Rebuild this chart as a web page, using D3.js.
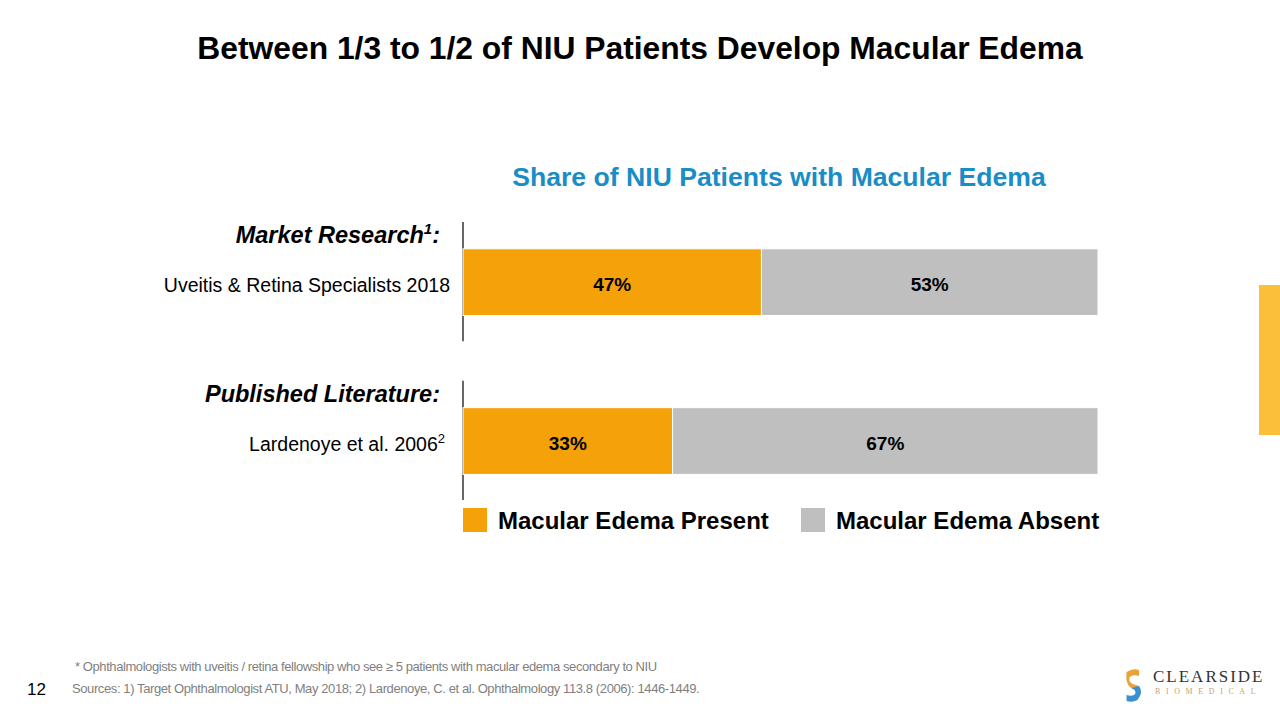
<!DOCTYPE html>
<html>
<head>
<meta charset="utf-8">
<script src="https://cdn.jsdelivr.net/npm/d3@7"></script>
<style>
  body { margin: 0; background: #fff; }
  svg { display: block; font-family: Arial, "Liberation Sans", sans-serif; }
</style>
</head>
<body>
<div id="chart"></div>
<script>
// chart data
var groups = ["Market Research", "Published Literature"];
var groupSup = ["1", ""];
var rowLabels = ["Uveitis & Retina Specialists 2018", "Lardenoye et al. 2006"];
var rowSup = ["", "2"];
var present = [47, 33];
var absent = [53, 67];
var seriesNames = ["Macular Edema Present", "Macular Edema Absent"];
var colors = ["#f4a10a", "#bfbfbf"];

var W = 1280, H = 720;
var svg = d3.select("#chart").append("svg")
  .attr("width", W).attr("height", H);

// title
svg.append("text")
  .attr("x", 640).attr("y", 59)
  .attr("text-anchor", "middle")
  .style("font-size", "31.8px").style("font-weight", "bold")
  .text("Between 1/3 to 1/2 of NIU Patients Develop Macular Edema");

svg.append("text")
  .attr("x", 779).attr("y", 186)
  .attr("text-anchor", "middle")
  .style("font-size", "26.6px").style("font-weight", "bold")
  .style("fill", "#1a8dc6")
  .text("Share of NIU Patients with Macular Edema");

// scales
var x = d3.scaleLinear().domain([0, 100]).range([463, 1098]);
var y = d3.scaleBand().domain(d3.range(groups.length)).range([222, 500]).paddingInner(0.25);

var rows = d3.range(groups.length).map(function(i) {
  return {i: i, segs: [
    {x0: 0, x1: present[i], c: colors[0]},
    {x0: present[i], x1: present[i] + absent[i], c: colors[1]}
  ]};
});

var g = svg.selectAll("g.row").data(rows).enter().append("g").attr("class", "row");

// axis line per group
g.append("line")
  .attr("x1", x(0)).attr("x2", x(0))
  .attr("y1", function(d) { return y(d.i); })
  .attr("y2", function(d) { return y(d.i) + y.bandwidth(); })
  .attr("stroke", "#000").attr("stroke-width", 1.2);

var barTop = function(i) { return y(i) + y.bandwidth() * 0.225; };
var barH = y.bandwidth() * 0.56;

g.selectAll("rect").data(function(d) { return d.segs.map(function(s) { return Object.assign({i: d.i}, s); }); })
  .enter().append("rect")
  .attr("x", function(d) { return x(d.x0); })
  .attr("width", function(d) { return x(d.x1) - x(d.x0); })
  .attr("y", function(d) { return barTop(d.i); })
  .attr("height", barH)
  .attr("fill", function(d) { return d.c; })
  .attr("stroke", "#fff").attr("stroke-width", 1);

g.selectAll("text.val").data(function(d) { return d.segs.map(function(s) { return Object.assign({i: d.i}, s); }); })
  .enter().append("text").attr("class", "val")
  .attr("x", function(d) { return (x(d.x0) + x(d.x1)) / 2; })
  .attr("y", function(d) { return barTop(d.i) + barH / 2 + 9; })
  .attr("text-anchor", "middle")
  .style("font-size", "19px").style("font-weight", "bold")
  .text(function(d) { return (d.x1 - d.x0) + "%"; });

// group headers
var hd = g.append("text")
  .attr("x", 440)
  .attr("y", function(d) { return y(d.i) + 21; })
  .attr("text-anchor", "end")
  .style("font-size", "23.5px").style("font-weight", "bold").style("font-style", "italic");
hd.append("tspan").text(function(d) { return groups[d.i]; });
hd.each(function(d) {
  var t = d3.select(this);
  if (groupSup[d.i]) {
    t.append("tspan").attr("dy", -9).style("font-size", "15px").text(groupSup[d.i]);
    t.append("tspan").attr("dy", 9).text(":");
  } else {
    t.append("tspan").text(":");
  }
});

var rl = g.append("text")
  .attr("x", function(d) { return d.i === 0 ? 450 : 445; })
  .attr("y", function(d) { return barTop(d.i) + barH / 2 + 10; })
  .attr("text-anchor", "end")
  .style("font-size", "19.5px");
rl.append("tspan").text(function(d) { return rowLabels[d.i]; });
rl.filter(function(d) { return rowSup[d.i]; })
  .append("tspan").attr("dy", -8).style("font-size", "13px").text(function(d) { return rowSup[d.i]; });

// legend
var lgX = [463, 801];
var lg = svg.selectAll("g.lg").data(seriesNames).enter().append("g")
  .attr("transform", function(d, i) { return "translate(" + lgX[i] + ",508)"; });
lg.append("rect").attr("width", 24).attr("height", 24)
  .attr("fill", function(d, i) { return colors[i]; });
lg.append("text").attr("x", 35).attr("y", 21)
  .style("font-size", "24px").style("font-weight", "bold")
  .text(function(d) { return d; });

// right accent bar
svg.append("rect").attr("x", 1259).attr("y", 285).attr("width", 21).attr("height", 150)
  .attr("fill", "#fbbf3a");

// footnotes
svg.append("text").attr("x", 75).attr("y", 671)
  .style("font-size", "13px").style("fill", "#7f7f7f").style("letter-spacing", "-0.42px")
  .text("* Ophthalmologists with uveitis / retina fellowship who see \u2265 5 patients with macular edema secondary to NIU");
svg.append("text").attr("x", 72).attr("y", 693)
  .style("font-size", "13px").style("fill", "#7f7f7f").style("letter-spacing", "-0.4px")
  .text("Sources: 1) Target Ophthalmologist ATU, May  2018; 2) Lardenoye, C. et al. Ophthalmology 113.8 (2006): 1446-1449.");
svg.append("text").attr("x", 27).attr("y", 695)
  .style("font-size", "17px")
  .text("12");

// logo
var logo = svg.append("g").attr("transform", "translate(1125,668)");
var icon = logo.append("g").attr("transform", "scale(0.78,1)");
icon.append("path").attr("d", "M2,4 Q10,0 18,2 L18,8 Q10,6 6,9 Q4,14 10,16 L18,18 L16,22 L8,20 Q0,16 2,4 Z").attr("fill", "#e8a33a");
icon.append("path").attr("d", "M18,18 Q24,24 16,32 Q10,35 2,33 L2,27 Q10,29 13,26 Q15,22 8,20 Z").attr("fill", "#3a8fd0");
logo.append("text").attr("x", 28).attr("y", 14)
  .style("font-family", "'Liberation Serif', 'DejaVu Serif', serif").style("font-size", "17px")
  .style("fill", "#333").style("letter-spacing", "2px")
  .text("CLEARSIDE");
logo.append("text").attr("x", 30).attr("y", 26)
  .style("font-family", "'Liberation Serif', 'DejaVu Serif', serif").style("font-size", "8px")
  .style("fill", "#c9a45a").style("letter-spacing", "5.6px")
  .text("BIOMEDICAL");
</script>
</body>
</html>
